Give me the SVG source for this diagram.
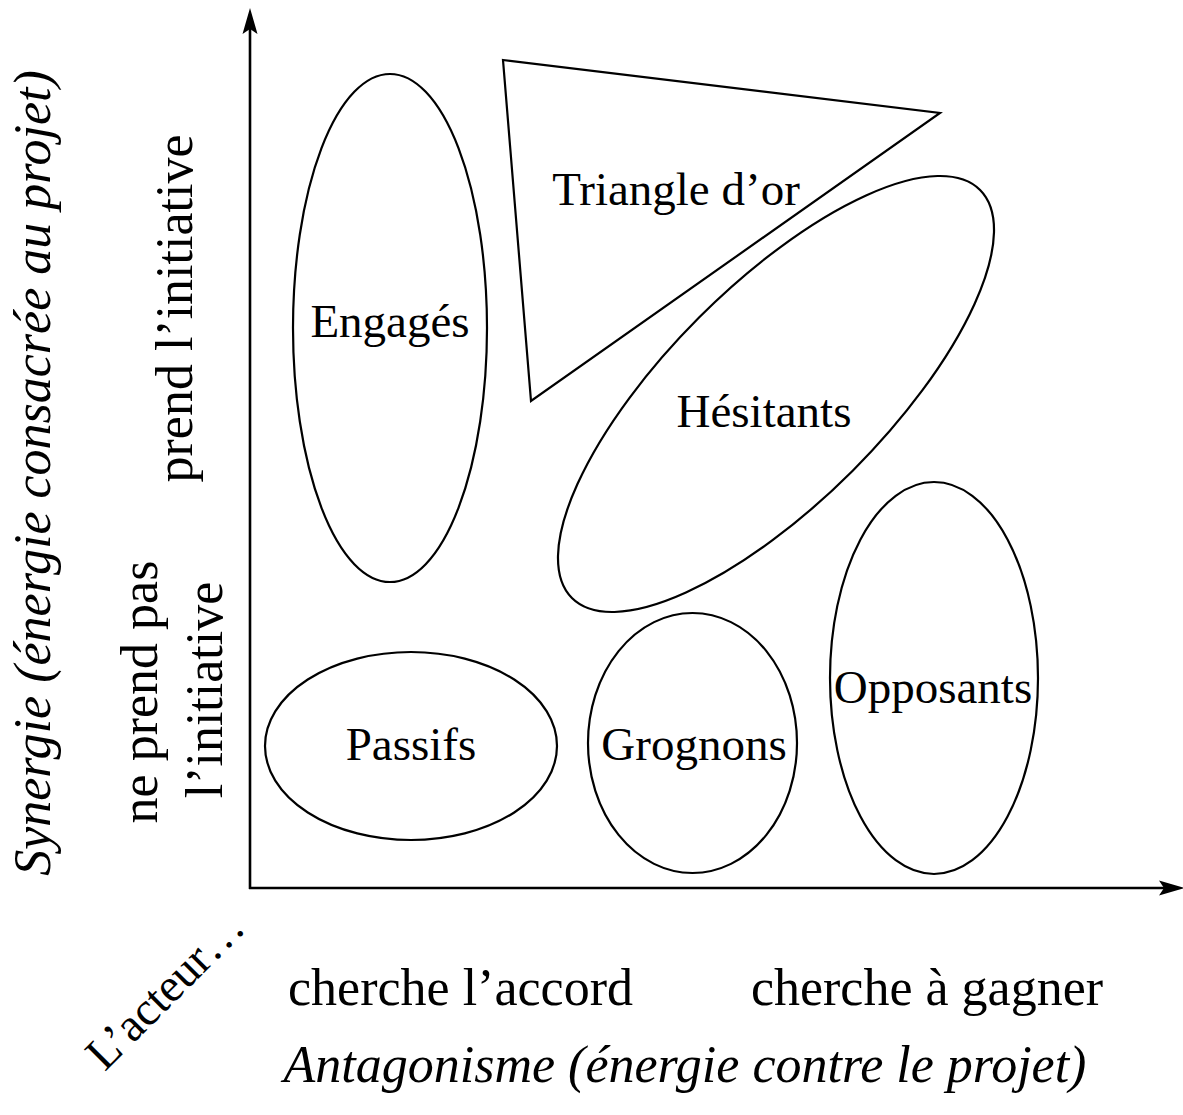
<svg xmlns="http://www.w3.org/2000/svg" width="1183" height="1115" viewBox="0 0 1183 1115">
<style>
.shape{fill:none;stroke:#000;stroke-width:2.2}
.axis{fill:none;stroke:#000;stroke-width:2.6}
.lbl{font-family:"Liberation Serif","Times New Roman",serif;font-size:47px;fill:#000;text-anchor:middle}
.ax{font-family:"Liberation Serif","Times New Roman",serif;font-size:52px;fill:#000;text-anchor:middle}
.it{font-style:italic}
</style>
<defs>
<marker id="arr" markerUnits="userSpaceOnUse" markerWidth="40" markerHeight="20" refX="0" refY="0" orient="auto" overflow="visible">
<path d="M20,0 L-6,-7.5 L-1,0 L-6,7.5 Z" fill="#000"/>
</marker>
</defs>
<rect width="1183" height="1115" fill="#fff"/>
<g id="connectors">
<line class="axis" x1="250" y1="889" x2="250" y2="28" marker-end="url(#arr)"/>
<line class="axis" x1="249" y1="888" x2="1165" y2="888" marker-end="url(#arr)"/>
</g>
<g id="engages">
<ellipse class="shape" cx="390" cy="328" rx="97" ry="254"/>
<text class="lbl" x="390" y="337">Engagés</text>
</g>
<g id="triangle-or">
<polygon class="shape" points="503,60 940,113 531,401"/>
<text class="lbl" x="676" y="205">Triangle d’or</text>
</g>
<g id="hesitants">
<ellipse class="shape" cx="776" cy="394" rx="288.6" ry="108.5" transform="rotate(-45 776 394)"/>
<text class="lbl" x="764" y="427">Hésitants</text>
</g>
<g id="passifs">
<ellipse class="shape" cx="411" cy="746" rx="146" ry="94"/>
<text class="lbl" x="411" y="760">Passifs</text>
</g>
<g id="grognons">
<ellipse class="shape" cx="692.5" cy="743" rx="104.5" ry="130"/>
<text class="lbl" x="694" y="760">Grognons</text>
</g>
<g id="opposants">
<ellipse class="shape" cx="934" cy="678" rx="104" ry="196"/>
<text class="lbl" x="933" y="703">Opposants</text>
</g>
<g id="axis-labels">
<text class="ax it" transform="translate(50,473) rotate(-90)">Synergie (énergie consacrée au projet)</text>
<text class="ax" transform="translate(192,308.5) rotate(-90)">prend l’initiative</text>
<text class="ax" transform="translate(157,692) rotate(-90)">ne prend pas</text>
<text class="ax" transform="translate(222,690) rotate(-90)">l’initiative</text>
<text class="ax" x="460.5" y="1005">cherche l’accord</text>
<text class="ax" x="927" y="1005">cherche à gagner</text>
<text class="ax it" x="685" y="1082">Antagonisme (énergie contre le projet)</text>
<text class="lbl" transform="translate(176,1001) rotate(-45)">L’acteur…</text>
</g>
</svg>
